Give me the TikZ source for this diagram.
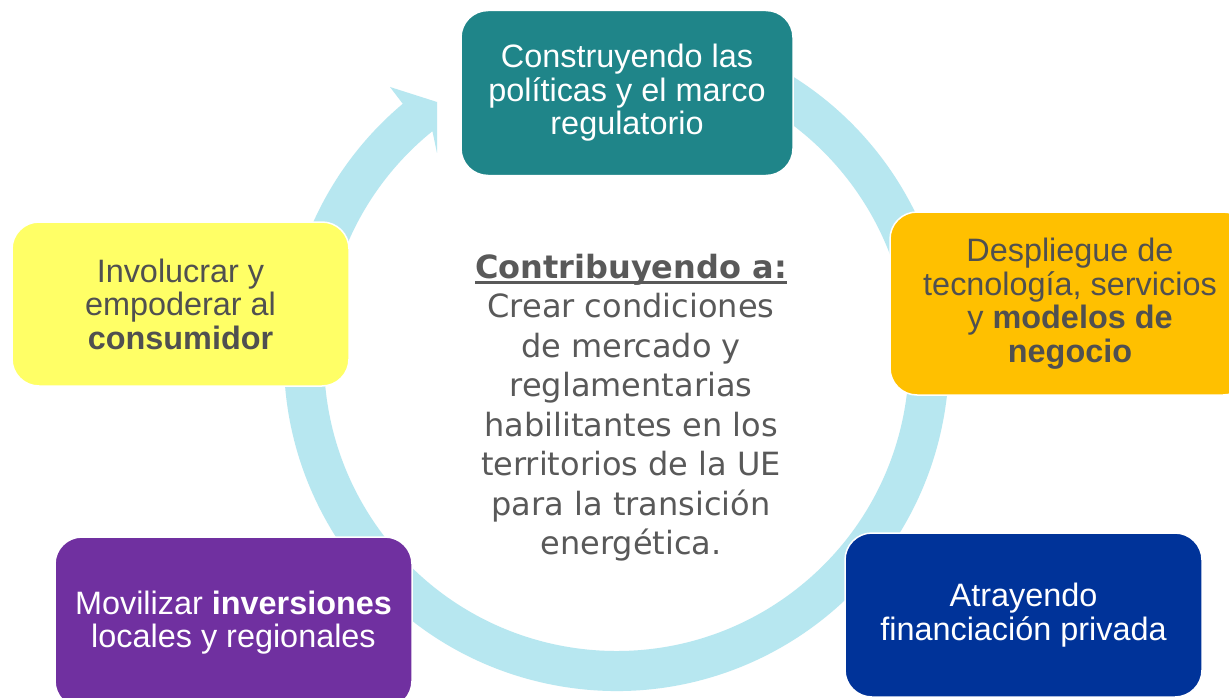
\documentclass[tikz,border=0pt]{standalone}
\usepackage{fontspec}
\setmainfont{Liberation Sans}
\newfontfamily\centfont{DejaVu Sans}
\definecolor{bandblue}{HTML}{B7E7F0}
\definecolor{tealbox}{HTML}{1F8589}
\definecolor{yellowbox}{HTML}{FFFF66}
\definecolor{orangebox}{HTML}{FFC000}
\definecolor{purplebox}{HTML}{7030A0}
\definecolor{bluebox}{HTML}{003399}
\definecolor{boxgray}{HTML}{505050}
\definecolor{centgray}{HTML}{595959}
\newcommand\myul[1]{\setbox0\hbox{#1}\rlap{\rule[-6pt]{\wd0}{3pt}}\box0}
\tikzset{
  box/.style={draw=white, line width=1.5pt, rounded corners=27pt, align=center,
    inner sep=0pt, font=\fontsize{32.4}{33.5}\selectfont},
  band/.style={fill=bandblue, draw=none}
}
\begin{document}
\begin{tikzpicture}[x=1pt, y=-1pt]
\useasboundingbox (0,0) rectangle (1229,698);
\fill[white] (0,0) rectangle (1229,698);
% circular arrow band
\coordinate (C) at (616.5,358.5);
\coordinate (barb) at (390,87);
\coordinate (tipA) at (437,102);
\coordinate (tipB) at (437,153);
\fill[band] ([shift={(C)}]-80:332.5) arc[start angle=-80, end angle=230, radius=332.5]
  -- (barb) -- (tipA) -- (tipB)
  -- ([shift={(C)}]231:292.5) arc[start angle=231, end angle=-80, radius=292.5] -- cycle;
% boxes
\node[box, fill=tealbox, text=white, minimum width=332pt, minimum height=165pt] (pol) at (627,93)
  {Construyendo las\\pol\'iticas y el marco\\regulatorio};
\node[box, fill=orangebox, text=boxgray, minimum width=360pt, minimum height=183pt] (tec) at (1070,303.5)
  {Despliegue de\\tecnolog\'ia, servicios\\y \textbf{modelos de}\\\textbf{negocio}};
\node[box, fill=bluebox, text=white, minimum width=357pt, minimum height=164pt] (fin) at (1023.5,615)
  {Atrayendo\\financiaci\'on privada};
\node[box, fill=purplebox, text=white, minimum width=357pt, minimum height=171pt] (inv) at (233.5,622.5)
  {Movilizar \textbf{inversiones}\\locales y regionales};
\node[box, fill=yellowbox, text=boxgray, minimum width=337pt, minimum height=164pt] (con) at (180.5,304)
  {Involucrar y\\empoderar al\\\textbf{consumidor}};
% centre text
\node[align=center, text=centgray, inner sep=0pt, font=\centfont\fontsize{32}{39.5}\selectfont] (ctr) at (631,407.5)
  {\textbf{\myul{Contribuyendo a:}}\\Crear condiciones\\de mercado y\\reglamentarias\\habilitantes en los\\territorios de la UE\\para la transici\'on\\energ\'etica.};
\end{tikzpicture}
\end{document}
